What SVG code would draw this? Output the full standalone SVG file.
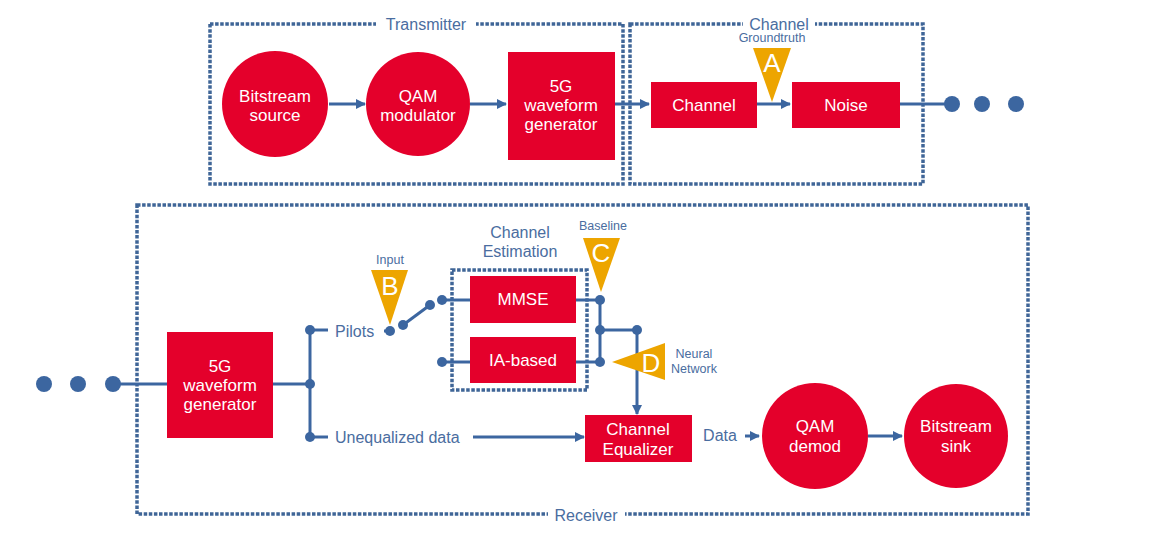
<svg xmlns="http://www.w3.org/2000/svg" width="1172" height="545" viewBox="0 0 1172 545">
<defs>
<style>
.box{fill:none;stroke:#3f6597;stroke-width:3.5;stroke-dasharray:3.5 1.6}
.red{fill:#e4002b}
.wt{fill:#fff;font-family:"Liberation Sans",Arial,sans-serif;font-size:17px;text-anchor:middle}
.lbl{fill:#4a6da0;font-family:"Liberation Sans",Arial,sans-serif;font-size:16px}
.sm{fill:#4a6da0;font-family:"Liberation Sans",Arial,sans-serif;font-size:12.5px;text-anchor:middle}
.tri{fill:#eda500}
.tl{fill:#fff;font-family:"Liberation Sans",Arial,sans-serif;font-size:26px;text-anchor:middle}
.ln{stroke:#3c66a0;stroke-width:3;fill:none}
.dot{fill:#3c66a0}
</style>
<marker id="ar" markerWidth="10" markerHeight="10" refX="9" refY="5" orient="auto" markerUnits="userSpaceOnUse">
<path d="M0,0 L10,5 L0,10 z" fill="#3c66a0"/>
</marker>
</defs>
<rect width="1172" height="545" fill="#fff"/>

<g id="transmitter">
<rect class="box" x="210" y="24" width="413" height="160"/>
<rect x="376" y="14" width="100" height="18" fill="#fff"/>
<text class="lbl" x="426" y="30" text-anchor="middle" font-size="16.5">Transmitter</text>
</g>
<g id="channel-box">
<rect class="box" x="630" y="24" width="293" height="160"/>
<rect x="743" y="14" width="72" height="18" fill="#fff"/>
<text class="lbl" x="779" y="30" text-anchor="middle" font-size="16.5">Channel</text>
</g>
<g id="receiver">
<rect class="box" x="137" y="205" width="891" height="309"/>
<rect x="548" y="505" width="77" height="18" fill="#fff"/>
<text class="lbl" x="586" y="521" text-anchor="middle" font-size="16.5">Receiver</text>
</g>
<g id="channel-estimation">
<rect class="box" x="452" y="270" width="135" height="120"/>
<text class="lbl" x="520" y="238" text-anchor="middle">Channel</text>
<text class="lbl" x="520" y="257" text-anchor="middle">Estimation</text>
</g>

<g id="connectors">
<line class="ln" x1="329" y1="104" x2="365" y2="104" marker-end="url(#ar)"/>
<line class="ln" x1="470" y1="104" x2="506" y2="104" marker-end="url(#ar)"/>
<line class="ln" x1="615" y1="104" x2="649" y2="104" marker-end="url(#ar)"/>
<line class="ln" x1="757" y1="104" x2="790" y2="104" marker-end="url(#ar)"/>
<line class="ln" x1="900" y1="104" x2="950" y2="104"/>
<circle class="dot" cx="952" cy="104" r="8"/>
<circle class="dot" cx="982" cy="104" r="8"/>
<circle class="dot" cx="1016" cy="104" r="8"/>

<circle class="dot" cx="44" cy="384" r="8"/>
<circle class="dot" cx="78" cy="384" r="8"/>
<circle class="dot" cx="113" cy="384" r="8"/>
<line class="ln" x1="113" y1="384" x2="167" y2="384"/>
<line class="ln" x1="273" y1="384" x2="310" y2="384"/>
<line class="ln" x1="310" y1="330" x2="310" y2="437"/>
<line class="ln" x1="310" y1="330" x2="328" y2="330"/>
<line class="ln" x1="310" y1="437" x2="328" y2="437"/>
<circle class="dot" cx="310" cy="330" r="5"/>
<circle class="dot" cx="310" cy="384" r="5"/>
<circle class="dot" cx="310" cy="437" r="5"/>
<line class="ln" x1="473" y1="437" x2="584" y2="437" marker-end="url(#ar)"/>

<line class="ln" x1="384" y1="331" x2="390" y2="331"/>
<circle class="dot" cx="390" cy="331" r="5"/>
<line class="ln" x1="403" y1="325" x2="430" y2="305"/>
<circle class="dot" cx="403" cy="325" r="5"/>
<circle class="dot" cx="430" cy="305" r="5"/>
<line class="ln" x1="442" y1="300" x2="470" y2="300"/>
<circle class="dot" cx="442" cy="300" r="5"/>
<line class="ln" x1="442" y1="362" x2="470" y2="362"/>
<circle class="dot" cx="442" cy="362" r="5"/>

<line class="ln" x1="576" y1="300" x2="600" y2="300"/>
<line class="ln" x1="576" y1="362" x2="600" y2="362"/>
<line class="ln" x1="600" y1="300" x2="600" y2="362"/>
<line class="ln" x1="600" y1="330" x2="637" y2="330"/>
<circle class="dot" cx="600" cy="300" r="5"/>
<circle class="dot" cx="600" cy="330" r="5"/>
<circle class="dot" cx="600" cy="362" r="5"/>
<circle class="dot" cx="637" cy="330" r="5"/>
<line class="ln" x1="637" y1="330" x2="637" y2="414" marker-end="url(#ar)"/>

<line class="ln" x1="745" y1="436" x2="759" y2="436" marker-end="url(#ar)"/>
<line class="ln" x1="868" y1="436" x2="902" y2="436" marker-end="url(#ar)"/>
</g>

<g id="bitstream-source">
<circle class="red" cx="275" cy="104" r="53"/>
<text class="wt" x="275" y="102">Bitstream</text>
<text class="wt" x="275" y="121">source</text>
</g>
<g id="qam-modulator">
<circle class="red" cx="418" cy="104" r="52"/>
<text class="wt" x="418" y="102">QAM</text>
<text class="wt" x="418" y="121">modulator</text>
</g>
<g id="tx-5g">
<rect class="red" x="508" y="52" width="107" height="108"/>
<text class="wt" x="561" y="92">5G</text>
<text class="wt" x="561" y="111">waveform</text>
<text class="wt" x="561" y="130">generator</text>
</g>
<g id="channel">
<rect class="red" x="651" y="82" width="106" height="46"/>
<text class="wt" x="704" y="111">Channel</text>
</g>
<g id="noise">
<rect class="red" x="792" y="82" width="108" height="46"/>
<text class="wt" x="846" y="111">Noise</text>
</g>
<g id="marker-a">
<text class="sm" x="772" y="42" font-size="11.5">Groundtruth</text>
<polygon class="tri" points="753,48 791,48 772,102"/>
<text class="tl" x="772" y="72" font-size="23">A</text>
</g>

<g id="rx-5g">
<rect class="red" x="167" y="332" width="106" height="106"/>
<text class="wt" x="220" y="372">5G</text>
<text class="wt" x="220" y="391">waveform</text>
<text class="wt" x="220" y="410">generator</text>
</g>
<g id="pilots-label"><text class="lbl" x="335" y="337" font-size="16.5">Pilots</text></g>
<g id="unequalized-label"><text class="lbl" x="335" y="443">Unequalized data</text></g>
<g id="marker-b">
<text class="sm" x="390" y="264">Input</text>
<polygon class="tri" points="371,270 408,270 390,325"/>
<text class="tl" x="390" y="295">B</text>
</g>
<g id="mmse">
<rect class="red" x="470" y="276" width="106" height="47"/>
<text class="wt" x="523" y="305">MMSE</text>
</g>
<g id="ia-based">
<rect class="red" x="470" y="337" width="106" height="46"/>
<text class="wt" x="523" y="366">IA-based</text>
</g>
<g id="marker-c">
<text class="sm" x="603" y="230">Baseline</text>
<polygon class="tri" points="583,238 620,238 601,292"/>
<text class="tl" x="601" y="262">C</text>
</g>
<g id="marker-d">
<polygon class="tri" points="612,362 665,343 665,380"/>
<text class="tl" x="651" y="372">D</text>
<text class="sm" x="694" y="358">Neural</text>
<text class="sm" x="694" y="373">Network</text>
</g>
<g id="channel-equalizer">
<rect class="red" x="585" y="415" width="107" height="47"/>
<text class="wt" x="638" y="435">Channel</text>
<text class="wt" x="638" y="455">Equalizer</text>
</g>
<g id="data-label"><text class="lbl" x="720" y="441" text-anchor="middle">Data</text></g>
<g id="qam-demod">
<circle class="red" cx="815" cy="436" r="53"/>
<text class="wt" x="815" y="432">QAM</text>
<text class="wt" x="815" y="452">demod</text>
</g>
<g id="bitstream-sink">
<circle class="red" cx="956" cy="436" r="52"/>
<text class="wt" x="956" y="432">Bitstream</text>
<text class="wt" x="956" y="452">sink</text>
</g>
</svg>
